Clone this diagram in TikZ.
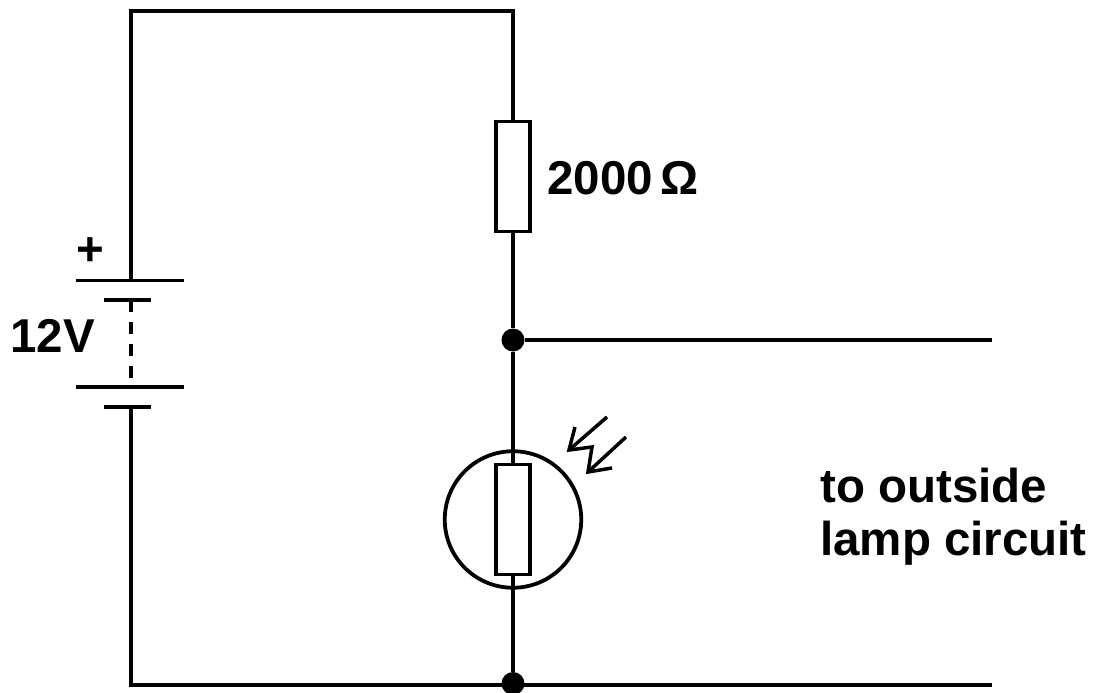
\documentclass[tikz,border=0pt]{standalone}
\usepackage{fontspec}
\setmainfont{Liberation Sans}
\tikzset{
	wire/.style={line width=4pt},
	plate/.style={line width=3.8pt},
	arrowline/.style={line width=3.5pt},
	dot/.style={circle, fill=black, inner sep=0pt, minimum size=23pt},
	resbox/.style={draw, line width=3.8pt, fill=white, inner sep=0pt, minimum width=34.5pt, minimum height=110pt},
	lbl/.style={inner sep=0pt, font=\fontsize{47.5}{53}\selectfont\bfseries},
}

\begin{document}
\begin{tikzpicture}[x=1pt, y=-1pt]

	\useasboundingbox (0,0) rectangle (1104,693);

	% Corners of the loop
	\coordinate (tl) at (130.5,11);
	\coordinate (tr) at (513,11);
	\coordinate (bl) at (130.5,685);
	\coordinate (outa) at (992,340);
	\coordinate (outb) at (992,685);

	% Battery plates
	\coordinate (pa) at (130.5,280.5);
	\coordinate (pb) at (130.5,300);
	\coordinate (pc) at (130.5,387);
	\coordinate (pd) at (130.5,407);
	\draw[plate] (76,280.5) -- (184,280.5);
	\draw[plate] (104,300) -- (151,300);
	\draw[plate] (76,387) -- (184,387);
	\draw[plate] (104,407) -- (151,407);
	\draw[wire, dash pattern=on 12pt off 10pt] (pb) -- (pc);

	% Resistor, junctions and light sensor
	\node[resbox] (res) at (513,176.5) {};
	\node[dot] (jct) at (513,340) {};
	\node[dot] (gnd) at (513,683.5) {};
	\node[draw, circle, line width=3.8pt, inner sep=0pt, minimum size=136.5pt] (ldrring) at (513,519.5) {};
	\node[resbox] (ldr) at (513,519.5) {};

	% Wires
	\draw[wire] (pa) -- (tl) -- (tr) -- (res);
	\draw[wire] (res) -- (jct) -- (ldr);
	\draw[wire] (ldr) -- (gnd);
	\draw[wire] (jct) -- (outa);
	\draw[wire] (pd) -- (bl) -- (outb);

	% Light arrows
	\draw[arrowline, miter limit=10] (575,427) -- (569,450) -- (592,447) -- (588,472) -- (612,468);
	\draw[arrowline] (569,450) -- (607,417);
	\draw[arrowline] (588,472) -- (626,437);

	% Labels
	\node[lbl, anchor=base west] (lblres) at (547,194) {2000\,Ω};
	\node[lbl, anchor=base west] (lblv) at (10,352) {12V};
	\node[lbl] (lblplus) at (90,252) {+};
	\node[lbl, anchor=base west, align=left] (lblout) at (820,555) {to outside\\lamp circuit};

\end{tikzpicture}
\end{document}
